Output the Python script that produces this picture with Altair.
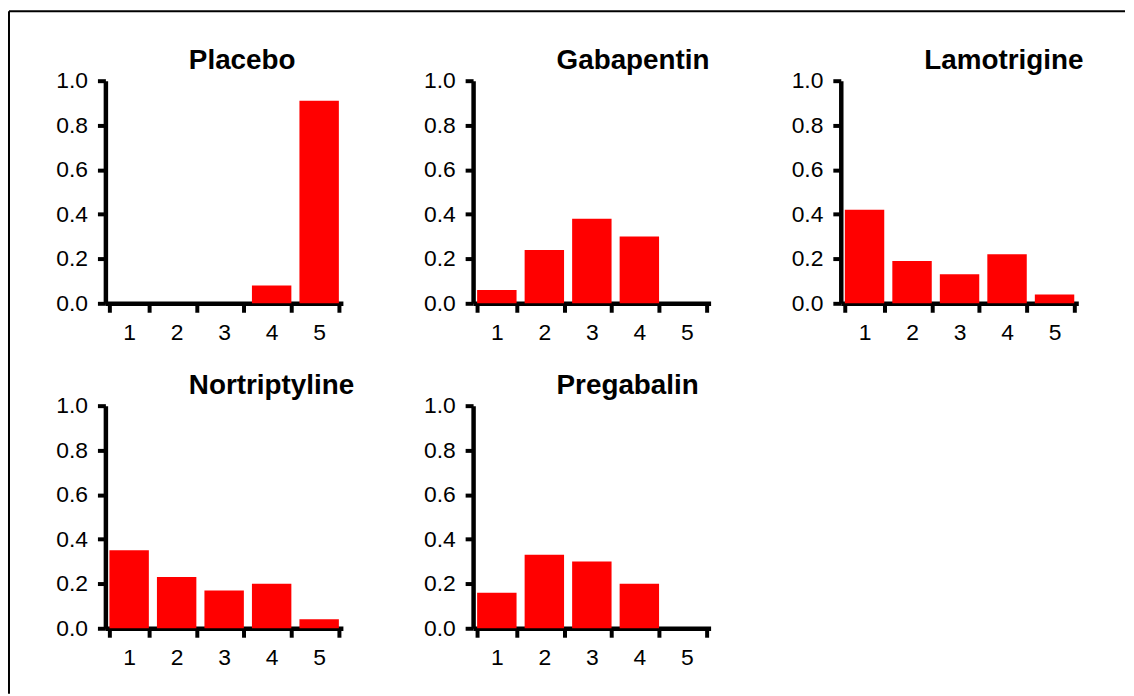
import altair as alt
import pandas as pd

categories = ["1", "2", "3", "4", "5"]
drugs = ["Placebo", "Gabapentin", "Lamotrigine", "Nortriptyline", "Pregabalin"]
placebo = [0.0, 0.0, 0.0, 0.08, 0.91]
gabapentin = [0.06, 0.24, 0.38, 0.30, 0.0]
lamotrigine = [0.42, 0.19, 0.13, 0.22, 0.04]
nortriptyline = [0.35, 0.23, 0.17, 0.20, 0.04]
pregabalin = [0.16, 0.33, 0.30, 0.20, 0.0]
y_ticks = [0.0, 0.2, 0.4, 0.6, 0.8, 1.0]

series = dict(zip(drugs, [placebo, gabapentin, lamotrigine, nortriptyline, pregabalin]))

FONT = "Liberation Sans"
W, H = 239, 224
AX = dict(grid=False, domainColor="black", domainWidth=4.5, tickColor="black",
          tickWidth=4, labelFont=FONT, labelFontSize=23, labelColor="black")


def panel(name, values, border=False):
    df = pd.DataFrame({"cat": categories, "value": values})
    bars = alt.Chart(df).mark_bar(color="#FF0000").encode(
        x=alt.X(
            "cat:N",
            sort=categories,
            scale=alt.Scale(paddingInner=0.17, paddingOuter=0.085),
            axis=alt.Axis(title=None, labelAngle=0, tickBand="extent",
                          tickSize=9, labelPadding=9, **AX),
        ),
        y=alt.Y(
            "value:Q",
            scale=alt.Scale(domain=[0, 1], nice=False, zero=True),
            axis=alt.Axis(title=None, values=y_ticks, format=".1f",
                          tickSize=8, labelPadding=10, **AX),
        ),
    )
    title = alt.Chart(pd.DataFrame({"title": [name]})).mark_text(
        align="left", baseline="alphabetic", font=FONT, fontSize=28,
        fontWeight="bold", color="black",
    ).encode(x=alt.value(84), y=alt.value(-12), text="title:N")
    layers = [bars, title]
    if border:
        one = pd.DataFrame({"k": [0]})
        top = alt.Chart(one).mark_rule(color="black", strokeWidth=2).encode(
            x=alt.value(-97), x2=alt.value(1026), y=alt.value(-70))
        left = alt.Chart(one).mark_rule(color="black", strokeWidth=2).encode(
            x=alt.value(-97), y=alt.value(-70), y2=alt.value(617))
        layers += [top, left]
    return alt.layer(*layers).properties(width=W, height=H)


panels = [panel(d, series[d], border=(i == 0)) for i, d in enumerate(drugs)]

chart = alt.concat(
    *panels, columns=3, spacing={"row": 103, "column": 131}, bounds="flush"
).configure_view(stroke=None).properties(padding=0, background="white")

chart.save("out.html", embed_options={"renderer": "svg", "actions": False})
